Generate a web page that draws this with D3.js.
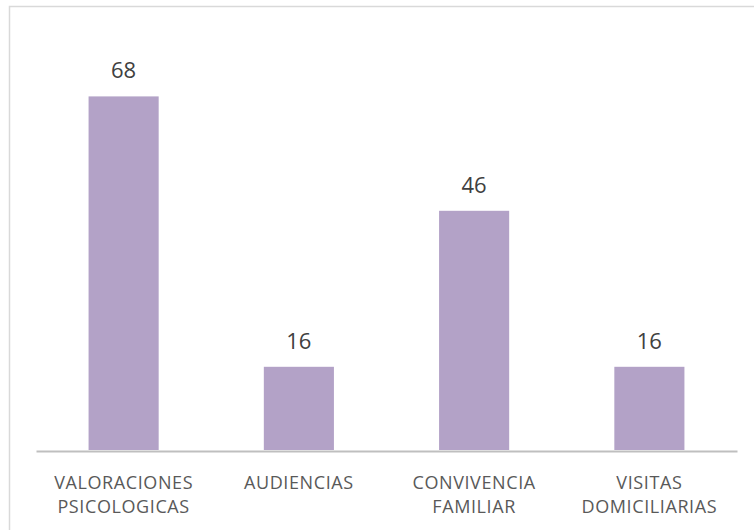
<!DOCTYPE html>
<html>
<head>
<meta charset="utf-8">
<script src="https://cdn.jsdelivr.net/npm/d3@7"></script>
<style>
  body { margin: 0; background: #fff; }
  svg { display: block; font-family: "Open Sans", sans-serif; }
</style>
</head>
<body>
<div id="chart"></div>
<script>
// Chart data
const categories = ["VALORACIONES PSICOLOGICAS", "AUDIENCIAS", "CONVIVENCIA FAMILIAR", "VISITAS DOMICILIARIAS"];
const labelLines = [["VALORACIONES", "PSICOLOGICAS"], ["AUDIENCIAS"], ["CONVIVENCIA", "FAMILIAR"], ["VISITAS", "DOMICILIARIAS"]];
const values = [68, 16, 46, 16];

const width = 754,
      height = 530;

const svg = d3.select("#chart").append("svg")
    .attr("width", width)
    .attr("height", height);

// Outer frame (right and bottom edges run off the page)
svg.append("rect")
    .attr("x", 9.5)
    .attr("y", 6.5)
    .attr("width", 760)
    .attr("height", 540)
    .style("fill", "none")
    .style("stroke", "#d9d9d9")
    .style("stroke-width", 1.5);

const x = d3.scaleBand()
    .domain(categories)
    .range([36, 737])
    .paddingInner(0.6)
    .paddingOuter(0.3);

const y = d3.scaleLinear()
    .domain([0, 80])
    .range([450, 34]);

// Bars
svg.selectAll(".bar")
    .data(values)
    .enter().append("rect")
    .attr("class", "bar")
    .attr("x", (d, i) => x(categories[i]))
    .attr("y", d => y(d))
    .attr("width", x.bandwidth())
    .attr("height", d => y(0) - y(d))
    .style("fill", "#b3a2c7");

// Value labels
svg.selectAll(".value")
    .data(values)
    .enter().append("text")
    .attr("class", "value")
    .attr("x", (d, i) => x(categories[i]) + x.bandwidth() / 2)
    .attr("y", d => y(d) - 18)
    .attr("text-anchor", "middle")
    .style("font-size", "22px")
    .style("fill", "#404040")
    .text(d => d);

// Category axis
const axis = svg.append("g")
    .attr("transform", `translate(0, ${y(0) + 1})`)
    .call(d3.axisBottom(x).tickSize(0).tickFormat(""));
axis.select(".domain")
    .attr("stroke", "#bfbfbf")
    .attr("stroke-width", 2);

// Multi-line category labels
categories.forEach((c, i) => {
    const t = svg.append("text")
        .attr("x", x(c) + x.bandwidth() / 2)
        .attr("y", 489)
        .attr("text-anchor", "middle")
        .style("font-size", "18px")
        .style("letter-spacing", "0.6px")
        .style("fill", "#595959");
    labelLines[i].forEach((line, j) => {
        t.append("tspan")
            .attr("x", x(c) + x.bandwidth() / 2)
            .attr("dy", j === 0 ? 0 : 23.5)
            .text(line);
    });
});
</script>
</body>
</html>
